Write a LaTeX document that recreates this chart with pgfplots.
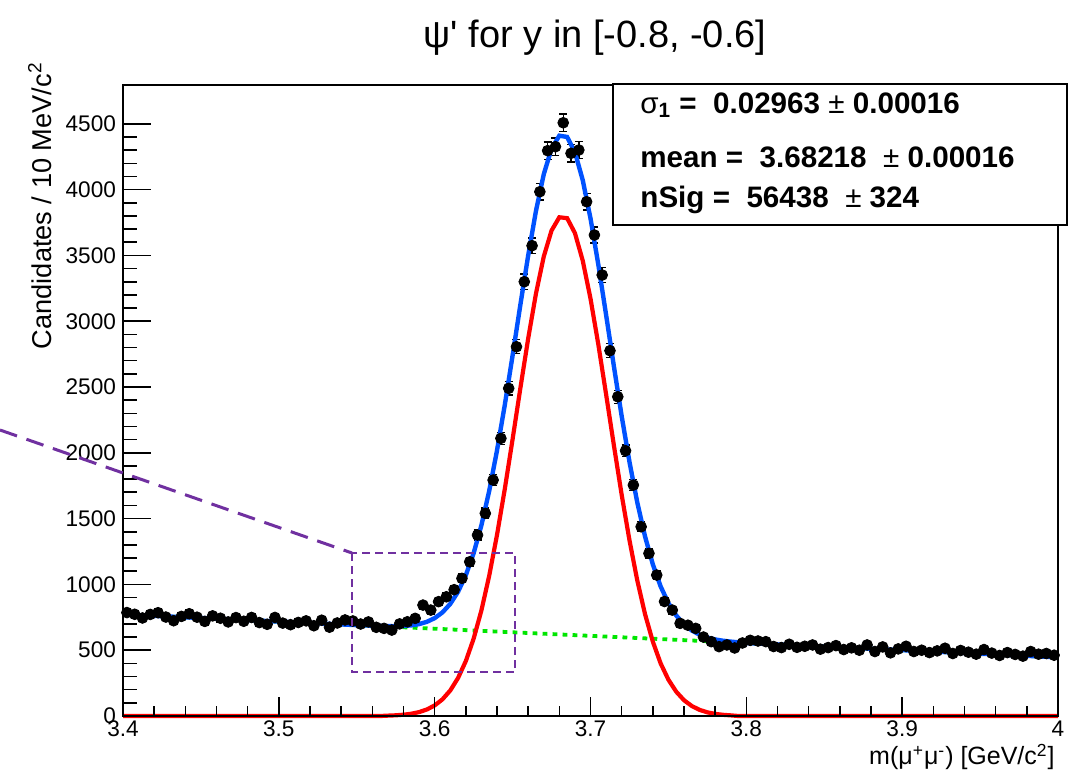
\documentclass[border=0pt]{standalone}
\usepackage{fontspec}
\setmainfont{Liberation Sans}
\usepackage{pgfplots}
\pgfplotsset{compat=1.18}
\usepackage{pgfplotstable}
\definecolor{rootblue}{RGB}{0,82,255}
\definecolor{rootred}{RGB}{255,0,0}
\definecolor{rootgreen}{RGB}{0,230,0}
\definecolor{annpurple}{RGB}{112,48,160}

\pgfplotstableread{
x y e
3.4025 786 28.0
3.4075 773 27.8
3.4125 745 27.3
3.4175 772 27.8
3.4225 785 28.0
3.4275 752 27.4
3.4325 724 26.9
3.4375 757 27.5
3.4425 777 27.9
3.4475 751 27.4
3.4525 719 26.8
3.4575 761 27.6
3.4625 743 27.3
3.4675 715 26.7
3.4725 748 27.3
3.4775 720 26.8
3.4825 749 27.4
3.4875 710 26.6
3.4925 697 26.4
3.4975 749 27.4
3.5025 706 26.6
3.5075 694 26.3
3.5125 711 26.7
3.5175 723 26.9
3.5225 686 26.2
3.5275 728 27.0
3.5325 675 26.0
3.5375 707 26.6
3.5425 730 27.0
3.5475 722 26.9
3.5525 699 26.4
3.5575 715 26.7
3.5625 674 26.0
3.5675 666 25.8
3.5725 653 25.6
3.5775 700 26.5
3.5825 716 26.8
3.5875 742 27.2
3.5925 843 29.0
3.5975 805 28.4
3.6025 869 29.5
3.6075 906 30.1
3.6125 960 31.0
3.6175 1046 32.3
3.6225 1172 34.2
3.6275 1375 37.1
3.6325 1540 39.2
3.6375 1793 42.3
3.6425 2110 45.9
3.6475 2490 49.9
3.6525 2806 53.0
3.6575 3300 57.4
3.6625 3574 59.8
3.6675 3984 63.1
3.6725 4296 65.5
3.6775 4326 65.8
3.6825 4508 67.1
3.6875 4276 65.4
3.6925 4301 65.6
3.6975 3908 62.5
3.7025 3655 60.5
3.7075 3351 57.9
3.7125 2776 52.7
3.7175 2426 49.3
3.7225 2016 44.9
3.7275 1755 41.9
3.7325 1438 37.9
3.7375 1236 35.2
3.7425 1071 32.7
3.7475 870 29.5
3.7525 805 28.4
3.7575 704 26.5
3.7625 690 26.3
3.7675 666 25.8
3.7725 600 24.5
3.7775 565 23.8
3.7825 527 23.0
3.7875 540 23.2
3.7925 517 22.7
3.7975 555 23.6
3.8025 575 24.0
3.8075 570 23.9
3.8125 565 23.8
3.8175 528 23.0
3.8225 520 22.8
3.8275 545 23.3
3.8325 522 22.8
3.8375 530 23.0
3.8425 540 23.2
3.8475 508 22.5
3.8525 520 22.8
3.8575 535 23.1
3.8625 505 22.5
3.8675 518 22.8
3.8725 500 22.4
3.8775 540 23.2
3.8825 490 22.1
3.8875 525 22.9
3.8925 480 21.9
3.8975 510 22.6
3.9025 530 23.0
3.9075 490 22.1
3.9125 500 22.4
3.9175 482 22.0
3.9225 495 22.2
3.9275 515 22.7
3.9325 475 21.8
3.9375 498 22.3
3.9425 485 22.0
3.9475 470 21.7
3.9525 505 22.5
3.9575 478 21.9
3.9625 460 21.4
3.9675 482 22.0
3.9725 468 21.6
3.9775 455 21.3
3.9825 490 22.1
3.9875 470 21.7
3.9925 475 21.8
3.9975 462 21.5
}\datatab

\pgfplotstableread{
x y
3.400 772.0
3.450 744.9
3.500 717.7
3.550 690.6
3.570 682.6
3.575 682.4
3.580 684.0
3.585 688.8
3.590 698.5
3.595 715.7
3.600 743.8
3.605 787.4
3.610 852.0
3.615 944.0
3.620 1070.2
3.625 1237.2
3.630 1449.8
3.635 1710.4
3.640 2017.7
3.645 2364.0
3.650 2739.2
3.655 3125.5
3.660 3498.8
3.665 3838.1
3.670 4116.4
3.675 4311.7
3.680 4410.0
3.685 4400.2
3.690 4284.5
3.695 4072.8
3.700 3781.1
3.705 3431.4
3.710 3048.7
3.715 2658.0
3.720 2279.2
3.725 1931.5
3.730 1623.8
3.735 1364.1
3.740 1152.4
3.745 984.7
3.750 858.0
3.755 764.2
3.760 696.5
3.765 649.8
3.770 617.8
3.775 596.3
3.780 581.9
3.785 572.1
3.790 565.2
3.800 554.8
3.850 527.7
3.900 500.5
3.950 473.4
4.000 446.2
}\totaltab

\pgfplotstableread{
x y
3.400 0
3.565 0
3.570 2.9
3.575 5.4
3.580 9.8
3.585 17.3
3.590 29.7
3.595 49.6
3.600 80.4
3.605 126.7
3.610 194.0
3.615 288.8
3.620 417.7
3.625 587.4
3.630 802.7
3.635 1066
3.640 1376
3.645 1725
3.650 2103
3.655 2492
3.660 2868
3.665 3210
3.670 3491
3.675 3689
3.680 3790
3.685 3783
3.690 3670
3.695 3461
3.700 3172
3.705 2825
3.710 2445
3.715 2057
3.720 1681
3.725 1336
3.730 1031
3.735 774
3.740 565
3.745 400
3.750 276
3.755 185
3.760 120
3.765 76
3.770 46.7
3.775 27.9
3.780 16.2
3.785 9.1
3.790 5.0
3.795 0
4.000 0
}\sigtab

\pgfplotstableread{
x y
3.400 772.0
4.000 446.2
}\bkgtab

\begin{document}
\begin{tikzpicture}
\useasboundingbox (0,0) rectangle (534pt,386.5pt);
\begin{axis}[
  at={(61.5pt,28.5pt)}, anchor=south west,
  scale only axis, width=467.5pt, height=315.5pt,
  xmin=3.4, xmax=4.0, ymin=0, ymax=4795,
  clip=false, axis on top,
  axis line style={line width=0.8pt},
  xtick={3.4,3.5,3.6,3.7,3.8,3.9,4.0},
  xticklabels={3.4,3.5,3.6,3.7,3.8,3.9,4},
  ytick={0,500,1000,1500,2000,2500,3000,3500,4000,4500},
  yticklabels={0,500,1000,1500,2000,2500,3000,3500,4000,4500},
  minor x tick num=4, minor y tick num=4,
  xtick pos=bottom, ytick pos=left,
  tick align=inside,
  major tick length=9.5pt, minor tick length=5pt,
  ytick style={/pgfplots/major tick length=14pt, /pgfplots/minor tick length=7pt},
  every tick/.style={line width=0.8pt, black},
  tick label style={font=\fontsize{11.3}{13}\selectfont},
  xticklabel style={yshift=1pt},
  /pgf/number format/assume math mode=true,
  scaled ticks=false,
]
\addplot[only marks, mark=*, mark size=2.7pt, black,
  error bars/.cd, y dir=both, y explicit,
  error bar style={line width=0.7pt, black},
  error mark options={rotate=90, mark size=2pt, line width=0.7pt, black}]
  table[x=x, y=y, y error=e] {\datatab};
\addplot[rootgreen, line width=1.9pt, dash pattern=on 2.4pt off 2.6pt] table[x=x,y=y] {\bkgtab};
\addplot[rootred, line width=2.1pt] table[x=x,y=y] {\sigtab};
\addplot[rootblue, line width=2.2pt] table[x=x,y=y] {\totaltab};
\end{axis}

% annotation
\draw[annpurple, line width=1.5pt, dash pattern=on 9pt off 5pt] (0pt,171.5pt) -- (176pt,110pt);
\draw[annpurple, line width=0.9pt, dash pattern=on 4pt off 2.5pt] (176pt,110pt) rectangle (257.5pt,50.5pt);

% stats box
\draw[fill=white, line width=0.8pt] (306.5pt,274pt) rectangle (533.6pt,344.5pt);
\begin{scope}[every node/.style={anchor=west, inner sep=0pt, font=\fontsize{14.8}{16}\selectfont\bfseries}]
\node at (320pt,334pt) {{\mdseries σ}\textsubscript{1} =\ \ 0.02963 {\mdseries±} 0.00016};
\node at (320pt,308pt) {mean =\ \ 3.68218 \ {\mdseries±} 0.00016};
\node at (320pt,286.5pt) {nSig =\ \ 56438 \ {\mdseries±} 324};
\end{scope}

% title and axis labels
\node[font=\fontsize{19}{22}\selectfont, inner sep=0pt] at (297.5pt,367.5pt) {ψ\textquotesingle{} for y in [-0.8, -0.6]};
\node[rotate=90, anchor=east, inner sep=0pt, font=\fontsize{13.6}{15}\selectfont] at (20pt,355.5pt) {Candidates / 10 MeV/c\textsuperscript{2}};
\node[anchor=east, inner sep=0pt, font=\fontsize{12.5}{14}\selectfont] at (527.5pt,8pt) {m(μ\textsuperscript{+}μ\textsuperscript{-}) [GeV/c\textsuperscript{2}]};
\end{tikzpicture}
\end{document}
